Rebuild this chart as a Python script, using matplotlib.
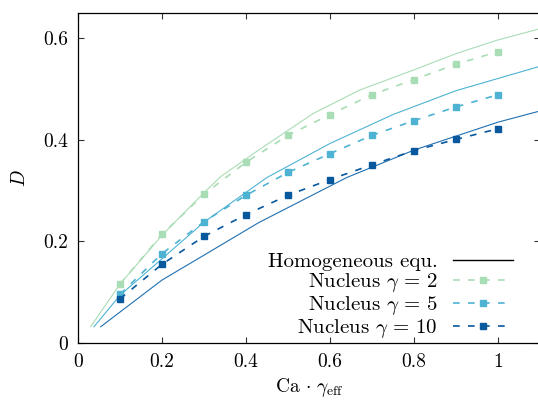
import matplotlib
matplotlib.use("Agg")
import matplotlib.pyplot as plt

plt.rcParams["font.family"] = ["cmr10", "DejaVu Serif"]
plt.rcParams["mathtext.fontset"] = "cm"
plt.rcParams["axes.unicode_minus"] = False
plt.rcParams["axes.formatter.use_mathtext"] = True

# Nucleus model results
ca_nucleus = [0.1, 0.2, 0.3, 0.4, 0.5, 0.6, 0.7, 0.8, 0.9, 1.0]
d_nucleus_g2 = [0.116, 0.214, 0.293, 0.356, 0.409, 0.450, 0.489, 0.519, 0.549, 0.574]
d_nucleus_g5 = [0.096, 0.176, 0.239, 0.291, 0.336, 0.373, 0.409, 0.438, 0.465, 0.489]
d_nucleus_g10 = [0.087, 0.155, 0.210, 0.253, 0.291, 0.322, 0.351, 0.379, 0.401, 0.422]

# Homogeneous equation curves
ca_hom_g2 = [0.030, 0.10, 0.202, 0.30, 0.34, 0.43, 0.56, 0.67, 0.80, 0.90, 1.00, 1.10]
d_hom_g2 = [0.032, 0.116, 0.214, 0.296, 0.328, 0.380, 0.452, 0.498, 0.538, 0.570, 0.597, 0.619]
ca_hom_g5 = [0.038, 0.10, 0.20, 0.30, 0.45, 0.60, 0.75, 0.90, 1.10]
d_hom_g5 = [0.032, 0.094, 0.166, 0.238, 0.326, 0.393, 0.450, 0.497, 0.545]
ca_hom_g10 = [0.054, 0.20, 0.30, 0.43, 0.64, 0.80, 1.00, 1.10]
d_hom_g10 = [0.032, 0.124, 0.173, 0.237, 0.326, 0.380, 0.435, 0.457]

x_ticks = [0, 0.2, 0.4, 0.6, 0.8, 1.0]
x_tick_labels = ["0", "0.2", "0.4", "0.6", "0.8", "1"]
y_ticks = [0, 0.2, 0.4, 0.6]
y_tick_labels = ["0", "0.2", "0.4", "0.6"]

c_g2 = "#a8ddb5"
c_g5 = "#4eb3d3"
c_g10 = "#08589e"

fig = plt.figure(figsize=(5.38, 4.05), dpi=100)
ax = fig.add_axes([78 / 538, 62 / 405, 462 / 538, 330 / 405])

lw_solid = 0.8
ax.plot(ca_hom_g2, d_hom_g2, color=c_g2, lw=lw_solid)
ax.plot(ca_hom_g5, d_hom_g5, color=c_g5, lw=lw_solid)
ax.plot(ca_hom_g10, d_hom_g10, color="#1f6fb0", lw=lw_solid)

dash = (0, (4, 5))
ms = 4.8
ax.plot(ca_nucleus, d_nucleus_g2, color=c_g2, lw=1.2, ls=dash, marker="s", ms=ms)
ax.plot(ca_nucleus, d_nucleus_g5, color=c_g5, lw=1.2, ls=dash, marker="s", ms=ms)
ax.plot(ca_nucleus, d_nucleus_g10, color=c_g10, lw=1.2, ls=dash, marker="s", ms=ms)

# legend proxies
h_hom, = ax.plot([], [], color="black", lw=1.0)
h_g2, = ax.plot([], [], color=c_g2, lw=1.2, ls=dash, marker="s", ms=ms)
h_g5, = ax.plot([], [], color=c_g5, lw=1.2, ls=dash, marker="s", ms=ms)
h_g10, = ax.plot([], [], color=c_g10, lw=1.2, ls=dash, marker="s", ms=ms)

leg = ax.legend([h_hom, h_g2, h_g5, h_g10],
                ["Homogeneous equ.", r"Nucleus $\gamma\,=\,2$",
                 r"Nucleus $\gamma\,=\,5$", r"Nucleus $\gamma\,=\,10$"],
                loc="lower right", bbox_to_anchor=(0.9416, 0.008),
                frameon=False, markerfirst=False, numpoints=1,
                fontsize=15, handlelength=2.9, handletextpad=0.72,
                labelspacing=0.0, borderpad=0, borderaxespad=0)

ax.set_xlim(0, 1.1)
ax.set_ylim(0, 0.65)
ax.set_xticks(x_ticks)
ax.set_xticklabels(x_tick_labels)
ax.set_yticks(y_ticks)
ax.set_yticklabels(y_tick_labels)
ax.tick_params(direction="in", length=4.3, width=0.8, top=True, right=True,
               labelsize=14, pad=7, color="#333333")
for s in ax.spines.values():
    s.set_linewidth(0.9)

ax.set_xlabel(r"$\mathrm{Ca}\,\cdot\,\gamma_{\mathrm{eff}}$", fontsize=14, labelpad=4)
ax.set_ylabel(r"$D$", fontsize=14, labelpad=10)

fig.savefig("out.png", dpi=100)
